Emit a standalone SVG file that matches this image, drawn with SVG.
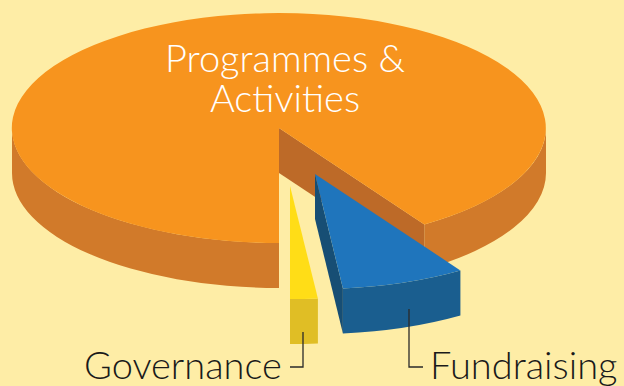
<svg xmlns="http://www.w3.org/2000/svg" width="624" height="386" viewBox="0 0 624 386">
<style>
.lbl{font-family:Lato,"Open Sans","Liberation Sans",sans-serif;font-weight:300;font-size:38px;fill:#1a1a1a}
.ttl{font-family:Lato,"Open Sans","Liberation Sans",sans-serif;font-weight:300;font-size:38px;fill:#ffffff;text-anchor:middle}
.lead{fill:none;stroke:#2a2a2a;stroke-width:1.3}
</style>
<rect width="624" height="386" fill="#FEEDA6"/>
<g id="programmes">
<path d="M12,128 A267,115 0 0 0 279,243 L279,288 A267,115 0 0 1 12,173 Z" fill="#D17A2A"/>
<path d="M546,128 A267,115 0 0 1 424.4,224.4 L424.4,269.4 A267,115 0 0 0 546,173 Z" fill="#D17A2A"/>
<path d="M279,128 L424.4,224.4 L424.4,269.4 L279,173 Z" fill="#BD6A28"/>
<path d="M279,128 L424.4,224.4 A267,115 0 1 0 279,243 Z" fill="#F7941E"/>
<text class="ttl" x="285" y="72">Programmes &amp;</text>
<text class="ttl" x="285" y="112">Activities</text>
</g>
<g id="fundraising">
<path d="M460.4,270.4 A267,115 0 0 1 342.9,288.4 L342.9,333.4 A267,115 0 0 0 460.4,315.4 Z" fill="#1A5E8F"/>
<path d="M315,174 L342.9,288.4 L342.9,333.4 L315,219 Z" fill="#174E74"/>
<path d="M315,174 L460.4,270.4 A267,115 0 0 1 342.9,288.4 Z" fill="#1F75BC"/>
<text class="lbl" x="430" y="379">Fundraising</text>
</g>
<g id="governance">
<path d="M317.9,298.4 A267,115 0 0 1 290,299 L290,344 A267,115 0 0 0 317.9,343.4 Z" fill="#E0BE25"/>
<path d="M290,186 L317.9,298.4 A267,115 0 0 1 290,299 Z" fill="#FFDD17"/>
<text class="lbl" x="84" y="379">Governance</text>
</g>
<g id="connectors">
<path class="lead" d="M303,332 V367 H290"/>
<path class="lead" d="M409,309 V367 H423"/>
</g>
</svg>
